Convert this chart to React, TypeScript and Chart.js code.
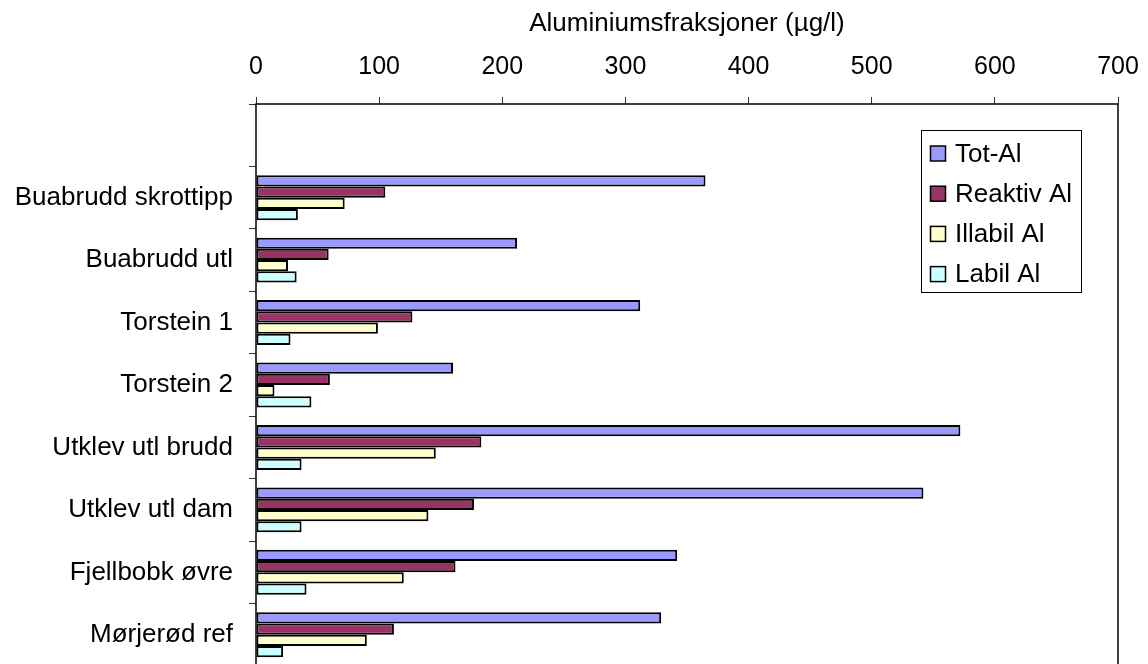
import { useEffect, useRef } from "react";
import { Chart, registerables } from "chart.js";

Chart.register(...registerables);

const categories = [
  "",
  "Buabrudd skrottipp",
  "Buabrudd utl",
  "Torstein 1",
  "Torstein 2",
  "Utklev utl brudd",
  "Utklev utl dam",
  "Fjellbobk øvre",
  "Mørjerød ref",
];
const seriesNames = ["Tot-Al", "Reaktiv Al", "Illabil Al", "Labil Al"];
const totAl = [null, 365, 212, 312, 160, 572, 542, 342, 329];
const reaktivAl = [null, 105, 59, 127, 60, 183, 177, 162, 112];
const illabilAl = [null, 72, 26, 99, 15, 146, 140, 120, 90];
const labilAl = [null, 34, 33, 28, 45, 37, 37, 41, 22];
const axisTitle = "Aluminiumsfraksjoner (µg/l)";
const xMin = 0;
const xMax = 700;
const xStep = 100;

const colors = ["#9999FF", "#993366", "#FFFFCC", "#CCFFFF"];
const FONT = "'Liberation Sans', Arial, sans-serif";

const frameAndLegend = {
  id: "frameAndLegend",
  afterDatasetsDraw(chart: any) {
    const { ctx, chartArea } = chart;
    ctx.save();
    ctx.strokeStyle = "#000";
    ctx.lineWidth = 1.5;
    ctx.strokeRect(chartArea.left, chartArea.top, chartArea.right - chartArea.left, chartArea.bottom - chartArea.top);

    // legend
    const lx = chartArea.right - 197;
    const ly = chartArea.top + 26;
    const lw = 160;
    const lh = 162;
    ctx.fillStyle = "#fff";
    ctx.fillRect(lx, ly, lw, lh);
    ctx.lineWidth = 1;
    ctx.strokeStyle = "#000";
    ctx.strokeRect(lx + 0.5, ly + 0.5, lw, lh);
    ctx.font = `26px ${FONT}`;
    ctx.textBaseline = "middle";
    ctx.textAlign = "left";
    chart.data.datasets.forEach((ds: any, i: number) => {
      const cy = ly + 23.5 + i * 40.2;
      ctx.fillStyle = ds.backgroundColor;
      ctx.fillRect(lx + 9.5, cy - 7.5, 15, 15);
      ctx.lineWidth = 1.5;
      ctx.strokeStyle = "#000";
      ctx.strokeRect(lx + 9.5, cy - 7.5, 15, 15);
      ctx.fillStyle = "#000";
      ctx.fillText(ds.label, lx + 34, cy + 1);
    });
    ctx.restore();
  },
};

export default function App() {
  const ref = useRef<HTMLCanvasElement | null>(null);
  useEffect(() => {
    if (!ref.current) return;
    const series = [totAl, reaktivAl, illabilAl, labilAl];
    const chart = new Chart(ref.current, {
      type: "bar",
      data: {
        labels: categories,
        datasets: series.map((d, i) => ({
          label: seriesNames[i],
          data: d as any,
          backgroundColor: colors[i],
          borderColor: "#000",
          borderWidth: 2,
          borderSkipped: false,
          barPercentage: 1,
          categoryPercentage: 0.72,
        })),
      },
      options: {
        indexAxis: "y",
        animation: false,
        responsive: false,
        maintainAspectRatio: false,
        devicePixelRatio: 1,
        layout: { padding: { top: 6, right: 30, left: 0, bottom: 0 } },
        plugins: {
          legend: { display: false },
          tooltip: { enabled: false },
        },
        scales: {
          x: {
            position: "top",
            min: xMin,
            max: xMax,
            ticks: {
              stepSize: xStep,
              color: "#000",
              font: { family: FONT, size: 25 },
              padding: 15,
            },
            grid: {
              display: true,
              drawOnChartArea: false,
              drawTicks: true,
              tickLength: 7,
              tickColor: "#333",
              lineWidth: 1,
            },
            border: { display: false },
            title: {
              display: true,
              text: axisTitle,
              color: "#000",
              font: { family: FONT, size: 26 },
              padding: { top: 2, bottom: 14 },
            },
            afterFit(scale: any) {
              scale.height = 98;
              scale.paddingLeft = 0;
              scale.paddingRight = 0;
            },
          },
          y: {
            offset: true,
            ticks: {
              color: "#000",
              font: { family: FONT, size: 26 },
              padding: 16,
              autoSkip: false,
            },
            grid: {
              display: true,
              offset: true,
              drawOnChartArea: false,
              drawTicks: true,
              tickLength: 7,
              tickColor: "#333",
              lineWidth: 1,
            },
            border: { display: false },
            afterFit(scale: any) {
              scale.width = 256;
              scale.paddingTop = 0;
              scale.paddingBottom = 0;
            },
          },
        },
      },
      plugins: [frameAndLegend],
    });
    return () => chart.destroy();
  }, []);
  return (
    <div
      style={{
        position: "fixed",
        left: 0,
        top: 0,
        width: 1148,
        height: 664,
        overflow: "hidden",
        background: "#fff",
      }}
    >
      <canvas ref={ref} width={1148} height={666} style={{ display: "block", width: 1148, height: 666 }} />
    </div>
  );
}
